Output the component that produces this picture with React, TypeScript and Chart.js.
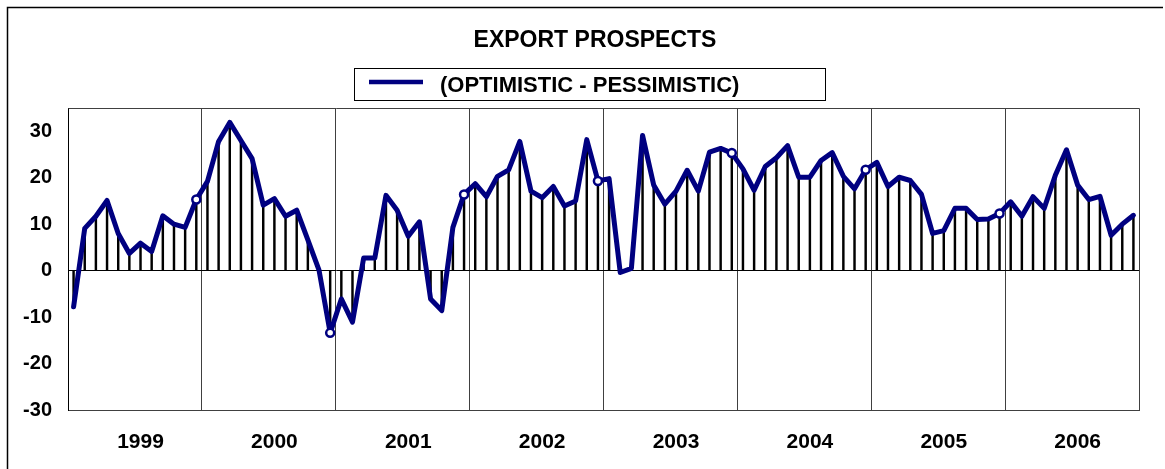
import React, { useEffect, useRef } from "react";
import { Chart, registerables } from "chart.js";

Chart.register(...registerables);

// ---- data ----
const years = ["1999", "2000", "2001", "2002", "2003", "2004", "2005", "2006"];
const balance1999 = [-7.8, 9.1, 11.7, 15.1, 8.0, 3.7, 5.9, 4.1, 11.8, 10.0, 9.3, 15.3];
const balance2000 = [19.2, 27.8, 31.9, 28.0, 24.1, 14.1, 15.5, 11.7, 13.0, 6.6, 0.1, -13.4];
const balance2001 = [-6.1, -11.1, 2.7, 2.7, 16.2, 13.0, 7.4, 10.5, -6.1, -8.6, 9.3, 16.4];
const balance2002 = [18.7, 15.9, 20.3, 21.7, 27.8, 17.1, 15.7, 18.1, 13.9, 15.0, 28.2, 19.3];
const balance2003 = [19.8, -0.4, 0.5, 29.1, 18.4, 14.3, 17.1, 21.6, 17.1, 25.5, 26.3, 25.3];
const balance2004 = [21.9, 17.3, 22.4, 24.3, 26.9, 20.1, 20.1, 23.7, 25.4, 20.3, 17.6, 21.7];
const balance2005 = [23.3, 18.1, 20.1, 19.4, 16.4, 8.0, 8.6, 13.4, 13.4, 11.0, 11.1, 12.3];
const balance2006 = [14.8, 11.7, 15.9, 13.4, 20.5, 26.0, 18.4, 15.3, 16.0, 7.6, 10.0, 11.9];
const balance = [
  ...balance1999, ...balance2000, ...balance2001, ...balance2002,
  ...balance2003, ...balance2004, ...balance2005, ...balance2006,
];
const yTickValues = [-30, -20, -10, 0, 10, 20, 30];
const markedYears = ["1999", "2000", "2001", "2002", "2003", "2004", "2005"]; // December points with markers
const TITLE = "EXPORT PROSPECTS";
const SERIES_LABEL = "(OPTIMISTIC - PESSIMISTIC)";

const FONT = '"Liberation Sans", Arial, Helvetica, sans-serif';
const NAVY = "#000080";

const points = balance.map((v, i) => ({ x: i + 0.5, y: v }));
const markerIdx = new Set(markedYears.map((y) => years.indexOf(y) * 12 + 11));

const decor = {
  id: "decor",
  beforeDraw(chart: any) {
    const ctx = chart.ctx;
    ctx.save();
    ctx.fillStyle = "#fff";
    ctx.fillRect(0, 0, chart.width, chart.height);
    // outer frame
    ctx.strokeStyle = "#000";
    ctx.lineWidth = 1.5;
    ctx.beginPath();
    ctx.moveTo(7.5, 480);
    ctx.lineTo(7.5, 7.5);
    ctx.lineTo(1163, 7.5);
    ctx.stroke();
    // title
    ctx.fillStyle = "#000";
    ctx.font = `bold 23px ${FONT}`;
    ctx.textAlign = "center";
    ctx.textBaseline = "alphabetic";
    ctx.fillText(TITLE, 595, 47);
    // legend
    ctx.lineWidth = 1;
    ctx.strokeStyle = "#000";
    ctx.strokeRect(354.5, 68.5, 471, 32);
    ctx.strokeStyle = NAVY;
    ctx.lineWidth = 4.5;
    ctx.beginPath();
    ctx.moveTo(369, 82);
    ctx.lineTo(423, 82);
    ctx.stroke();
    ctx.font = `bold 22px ${FONT}`;
    ctx.textAlign = "left";
    ctx.fillText(SERIES_LABEL, 440, 92);
    ctx.restore();
  },
  beforeDatasetsDraw(chart: any) {
    const { ctx, chartArea } = chart;
    ctx.save();
    ctx.strokeStyle = "#404040";
    ctx.lineWidth = 1;
    ctx.beginPath();
    ctx.moveTo(Math.round(chartArea.left) + 0.5, Math.round(chartArea.top) + 0.5);
    ctx.lineTo(Math.round(chartArea.right) + 0.5, Math.round(chartArea.top) + 0.5);
    ctx.lineTo(Math.round(chartArea.right) + 0.5, Math.round(chartArea.bottom) + 0.5);
    ctx.stroke();
    ctx.restore();
  },
};

export default function App() {
  const ref = useRef<HTMLCanvasElement>(null);
  useEffect(() => {
    if (!ref.current) return;
    const chart = new Chart(ref.current, {
      type: "bar",
      data: {
        datasets: [
          {
            type: "line",
            label: SERIES_LABEL,
            data: points,
            borderColor: NAVY,
            borderWidth: 5,
            tension: 0,
            order: 0,
            pointRadius: points.map((_, i) => (markerIdx.has(i) ? 4 : 0)),
            pointBackgroundColor: "#fff",
            pointBorderColor: NAVY,
            pointBorderWidth: 2.5,
            borderJoinStyle: "round",
            borderCapStyle: "round",
          } as any,
          {
            type: "bar",
            label: "drop",
            data: points,
            backgroundColor: "#000",
            barThickness: 1.8,
            order: 1,
          } as any,
        ],
      },
      options: {
        responsive: false,
        animation: false,
        events: [],
        layout: { padding: { top: 108, right: 26, left: 0, bottom: 0 } },
        plugins: {
          legend: { display: false },
          title: { display: false },
          tooltip: { enabled: false },
        },
        scales: {
          x: {
            type: "linear",
            min: 0,
            max: 96,
            offset: false,
            afterFit: (s: any) => {
              s.height = 59;
            },
            afterBuildTicks: (s: any) => {
              const t: any[] = [];
              for (let k = 0; k <= 96; k += 12) {
                t.push({ value: k });
                if (k < 96) t.push({ value: k + 6.5 });
              }
              s.ticks = t;
            },
            ticks: {
              autoSkip: false,
              maxRotation: 0,
              padding: 20,
              color: "#000",
              font: { family: FONT, size: 21, weight: "bold" },
              callback: (v: any) => {
                const n = Number(v);
                if (n % 12 === 6.5) return years[Math.floor(n / 12)];
                return "";
              },
            },
            grid: {
              offset: false,
              drawTicks: false,
              lineWidth: 1,
              color: (c: any) => {
                const v = c.tick ? c.tick.value : -1;
                return v % 12 === 0 && v > 0 && v < 96 ? "#404040" : "rgba(0,0,0,0)";
              },
            },
            border: { display: true, color: "#404040", width: 1 },
          },
          y: {
            min: -30,
            max: 35,
            afterFit: (s: any) => {
              s.width = 68;
            },
            afterBuildTicks: (s: any) => {
              s.ticks = yTickValues.map((v) => ({ value: v }));
            },
            ticks: {
              padding: 16,
              color: "#000",
              font: { family: FONT, size: 20, weight: "bold" },
            },
            grid: {
              drawTicks: false,
              lineWidth: 1,
              color: (c: any) => (c.tick && c.tick.value === 0 ? "#000" : "rgba(0,0,0,0)"),
            },
            border: { display: true, color: "#000", width: 1 },
          },
        },
      },
      plugins: [decor],
    } as any);
    return () => chart.destroy();
  }, []);
  return (
    <div style={{ position: "fixed", left: 0, top: 0, width: 1165, height: 469, background: "#fff" }}>
      <canvas ref={ref} width={1165} height={469} style={{ display: "block" }} />
    </div>
  );
}
